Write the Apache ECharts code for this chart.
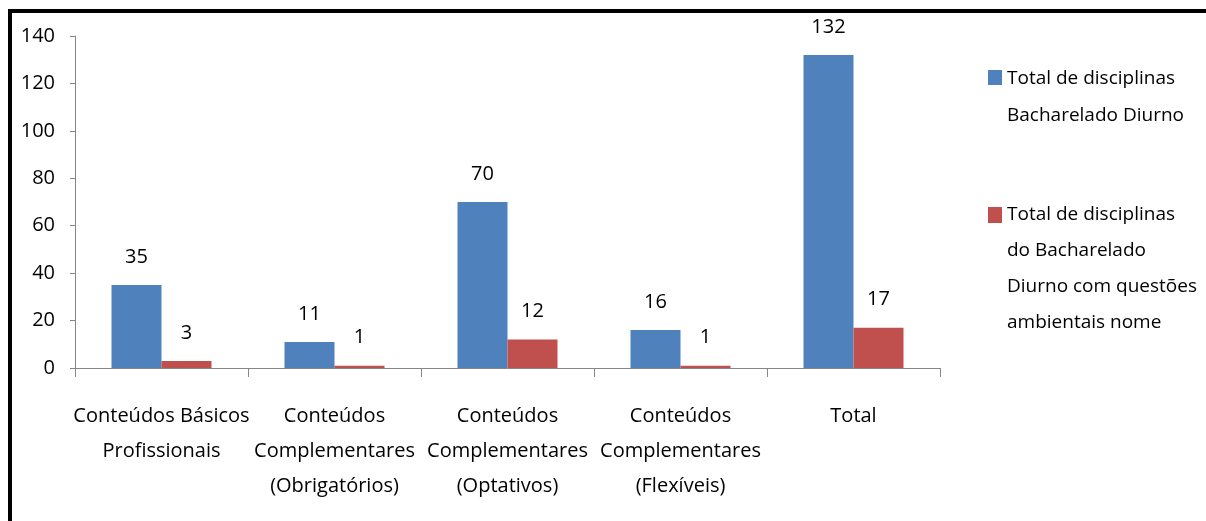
<!DOCTYPE html>
<html>
<head>
<meta charset="utf-8">
<script src="https://cdn.jsdelivr.net/npm/echarts@6/dist/echarts.min.js"></script>
<style>
html, body { margin: 0; padding: 0; background: #fff; }
#main { width: 1206px; height: 521px; }
</style>
</head>
<body>
<div id="main"></div>
<script>
// categorias do eixo x
var categorias = [
	'Conteúdos Básicos\nProfissionais',
	'Conteúdos\nComplementares\n(Obrigatórios)',
	'Conteúdos\nComplementares\n(Optativos)',
	'Conteúdos\nComplementares\n(Flexíveis)',
	'Total'
];
// series
var nomeSerie1 = 'Total de disciplinas Bacharelado Diurno';
var nomeSerie2 = 'Total de disciplinas do Bacharelado Diurno com questões ambientais nome';
var totalDisciplinas = [35, 11, 70, 16, 132];
var comQuestoes = [3, 1, 12, 1, 17];
// legenda (texto quebrado como no original)
var legendaLinhas1 = ['Total de disciplinas', 'Bacharelado Diurno'];
var legendaLinhas2 = ['Total de disciplinas', 'do Bacharelado', 'Diurno com questões', 'ambientais nome'];

var fonte = '"Open Sans", sans-serif';
var azul = '#4F81BD';
var vermelho = '#C0504D';
var cinza = '#868686';

var myChart = echarts.init(document.getElementById('main'));

var option = {
	backgroundColor: '#fff',
	animation: false,
	grid: { left: 75, right: 266, top: 36, bottom: 153 },
	xAxis: {
		type: 'category',
		data: categorias,
		axisLine: { lineStyle: { color: cinza, width: 1 } },
		axisTick: { show: true, length: 9, lineStyle: { color: cinza } },
		axisLabel: {
			interval: 0,
			margin: 31,
			color: '#000',
			fontSize: 20,
			lineHeight: 35,
			fontFamily: fonte
		}
	},
	yAxis: {
		type: 'value',
		min: 0,
		max: 140,
		interval: 20,
		splitLine: { show: false },
		axisLine: { show: true, lineStyle: { color: cinza, width: 1 } },
		axisTick: { show: true, length: 5, lineStyle: { color: cinza } },
		axisLabel: { margin: 20, color: '#000', fontSize: 20, fontFamily: fonte }
	},
	series: [
		{
			name: nomeSerie1,
			type: 'bar',
			data: totalDisciplinas,
			barWidth: 50,
			barGap: '0%',
			itemStyle: { color: azul },
			label: { show: true, position: 'top', distance: 18, color: '#000', fontSize: 20, fontFamily: fonte }
		},
		{
			name: nomeSerie2,
			type: 'bar',
			data: comQuestoes,
			barWidth: 50,
			barGap: '0%',
			itemStyle: { color: vermelho },
			label: { show: true, position: 'top', distance: 18, color: '#000', fontSize: 20, fontFamily: fonte }
		}
	],
	graphic: [
		// moldura (topo e esquerda)
		{ type: 'rect', shape: { x: 8, y: 9, width: 1198, height: 4 }, style: { fill: '#000' } },
		{ type: 'rect', shape: { x: 8, y: 9, width: 4, height: 512 }, style: { fill: '#000' } },
		// legenda
		{ type: 'rect', shape: { x: 988, y: 70, width: 14, height: 15 }, style: { fill: azul } },
		{ type: 'text', x: 1007, y: 60, style: { text: legendaLinhas1.join('\n'), fill: '#000', fontSize: 19, lineHeight: 37, fontFamily: fonte } },
		{ type: 'rect', shape: { x: 988, y: 207, width: 14, height: 16 }, style: { fill: vermelho } },
		{ type: 'text', x: 1007, y: 197, style: { text: legendaLinhas2.join('\n'), fill: '#000', fontSize: 19, lineHeight: 36, fontFamily: fonte } }
	]
};
myChart.setOption(option);
</script>
</body>
</html>
